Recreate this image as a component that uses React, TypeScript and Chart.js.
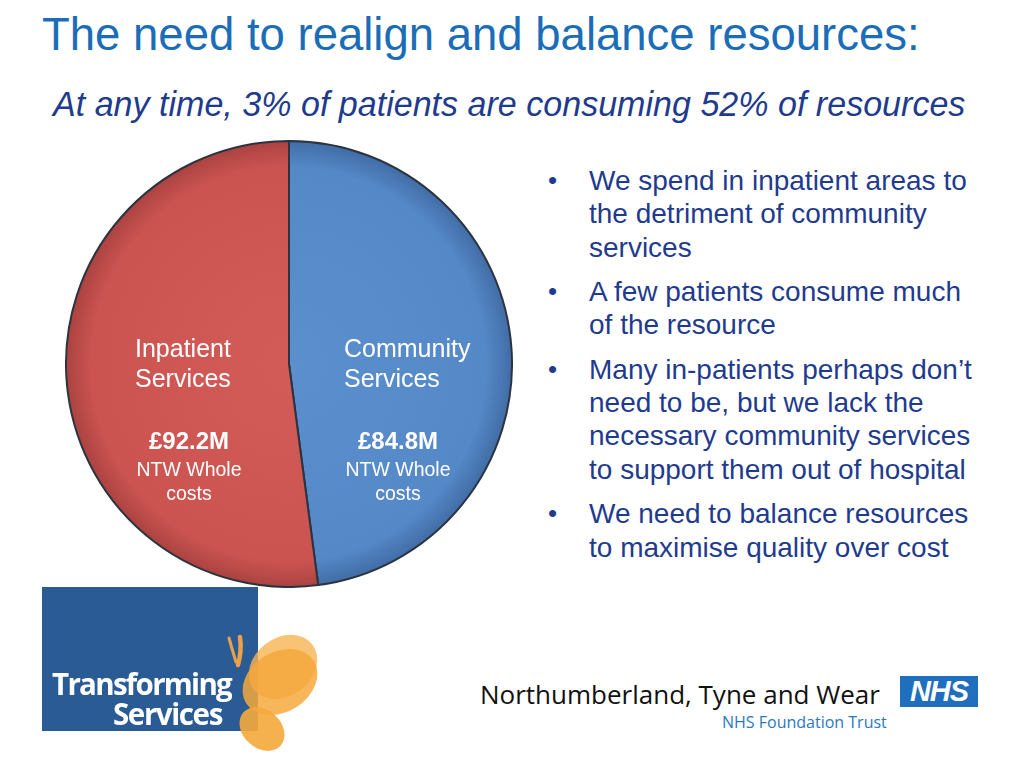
import React, { useEffect, useRef } from "react";
import { Chart, registerables } from "chart.js";

Chart.register(...registerables);

const categories = ["Community Services", "Inpatient Services"];
const values = [84.8, 92.2];
const amountLabels = ["£84.8M", "£92.2M"];
const subLabels = ["NTW Whole", "costs"];

const bullets = [
  ["We spend in inpatient areas to", "the detriment of community", "services"],
  ["A few patients consume much", "of the resource"],
  ["Many in-patients perhaps don’t", "need to be, but we lack the", "necessary community services", "to support them out of hospital"],
  ["We need to balance resources", "to maximise quality over cost"],
];

const sliceColors = [
  ["#5b8fcd", "#5488c7", "#416ca5"],
  ["#d35b58", "#cb5451", "#aa4240"],
];

const FONT = "'Liberation Sans', Arial, sans-serif";

// label layout relative to pie centre (name lines left aligned at x, amount block centred at cx)
const labelLayout = [
  { x: 55, cx: 109 },
  { x: -154, cx: -100 },
];

const pieLabelsPlugin = {
  id: "pieLabels",
  afterDatasetsDraw(chart: any) {
    const meta = chart.getDatasetMeta(0);
    const arc = meta.data[0];
    if (!arc) return;
    const { x: cx0, y: cy0 } = arc.getProps(["x", "y"], true);
    const ctx = chart.ctx;
    ctx.save();
    ctx.fillStyle = "#ffffff";
    ctx.textBaseline = "middle";
    categories.forEach((cat, i) => {
      const lay = labelLayout[i];
      const words = cat.split(" ");
      ctx.font = `25px ${FONT}`;
      ctx.textAlign = "left";
      ctx.fillText(words[0], cx0 + lay.x, cy0 - 14);
      ctx.fillText(words[1], cx0 + lay.x, cy0 + 16);
      ctx.textAlign = "center";
      ctx.font = `bold 24px ${FONT}`;
      ctx.fillText(amountLabels[i], cx0 + lay.cx, cy0 + 78);
      ctx.font = `19.5px ${FONT}`;
      ctx.fillText(subLabels[0], cx0 + lay.cx, cy0 + 107);
      ctx.fillText(subLabels[1], cx0 + lay.cx, cy0 + 131);
    });
    ctx.restore();
  },
};

function PieChart() {
  const ref = useRef<HTMLCanvasElement>(null);
  useEffect(() => {
    if (!ref.current) return;
    const chart = new Chart(ref.current, {
      type: "pie",
      data: {
        labels: categories,
        datasets: [
          {
            data: values,
            backgroundColor: (c: any) => {
              const chartObj = c.chart;
              const area = chartObj.chartArea;
              if (!area) return sliceColors[c.dataIndex][1];
              const x = (area.left + area.right) / 2;
              const y = (area.top + area.bottom) / 2;
              const r = Math.min(area.right - area.left, area.bottom - area.top) / 2;
              const g = chartObj.ctx.createRadialGradient(x, y, 0, x, y, r);
              const cols = sliceColors[c.dataIndex];
              g.addColorStop(0, cols[0]);
              g.addColorStop(0.88, cols[1]);
              g.addColorStop(1, cols[2]);
              return g;
            },
            borderColor: "#2b3440",
            borderWidth: 2,
          },
        ],
      },
      options: {
        animation: false,
        responsive: false,
        maintainAspectRatio: false,
        layout: { padding: 0 },
        plugins: { legend: { display: false }, tooltip: { enabled: false } },
      },
      plugins: [pieLabelsPlugin],
    });
    return () => chart.destroy();
  }, []);
  return <canvas ref={ref} width={448} height={448} style={{ width: 448, height: 448 }} />;
}

function TransformingLogo() {
  return (
    <svg width={300} height={180} style={{ position: "absolute", left: 40, top: 585 }}>
      <rect x={2} y={2} width={216} height={144} fill="#2a5b95" />
      <path d="M189 53 Q192 64 196 77" stroke="#e9a24a" strokeWidth={3} fill="none" strokeLinecap="round" />
      <path d="M200 52 Q202 66 198 80" stroke="#e9a24a" strokeWidth={4.5} fill="none" strokeLinecap="round" />
      <ellipse cx={243} cy={82} rx={37} ry={29} transform="rotate(-38 243 82)" fill="#f8b452" opacity={0.8} />
      <ellipse cx={240} cy={97} rx={40} ry={30} transform="rotate(-32 240 97)" fill="#f5a93c" opacity={0.85} />
      <ellipse cx={222} cy={144} rx={25} ry={19} transform="rotate(42 222 144)" fill="#f5a93c" opacity={0.9} />
      <text x={12} y={110} fill="#ffffff" fontFamily="'Open Sans', 'Noto Sans', sans-serif" fontWeight="bold" fontSize={29.5} letterSpacing={-1.7}>
        Transforming
      </text>
      <text x={73} y={140} fill="#ffffff" fontFamily="'Open Sans', 'Noto Sans', sans-serif" fontWeight="bold" fontSize={29.5} letterSpacing={-1.4}>
        Services
      </text>
    </svg>
  );
}

export default function App() {
  return (
    <div
      style={{
        position: "absolute",
        left: 0,
        top: 0,
        width: 1024,
        height: 768,
        background: "#ffffff",
        overflow: "hidden",
        fontFamily: FONT,
      }}
    >
      <div
        style={{
          position: "absolute",
          left: 42,
          top: 7,
          fontSize: 45.5,
          color: "#1a6db6",
          whiteSpace: "nowrap",
          lineHeight: "56px",
        }}
      >
        The need to realign and balance resources:
      </div>
      <div
        style={{
          position: "absolute",
          left: 53,
          top: 82,
          fontSize: 35,
          fontStyle: "italic",
          color: "#1f3b8e",
          whiteSpace: "nowrap",
          lineHeight: "44px",
          transform: "scaleX(0.973)",
          transformOrigin: "left top",
        }}
      >
        At any time, 3% of patients are consuming 52% of resources
      </div>

      <div style={{ position: "absolute", left: 65, top: 140 }}>
        <PieChart />
      </div>

      <div style={{ position: "absolute", left: 548, top: 164, color: "#1f3b8e", fontSize: 28 }}>
        {bullets.map((para, i) => (
          <div key={i} style={{ position: "relative", paddingLeft: 41, marginBottom: 11.2 }}>
            <span style={{ position: "absolute", left: 0, top: 0, lineHeight: "33.3px", fontSize: 26 }}>•</span>
            {para.map((line, j) => (
              <div key={j} style={{ lineHeight: "33.3px", whiteSpace: "nowrap" }}>
                {line}
              </div>
            ))}
          </div>
        ))}
      </div>

      <TransformingLogo />

      <div
        style={{
          position: "absolute",
          left: 480,
          top: 677,
          fontSize: 26,
          color: "#111111",
          fontFamily: "'Open Sans', 'Noto Sans', sans-serif",
          whiteSpace: "nowrap",
          lineHeight: "34px",
        }}
      >
        Northumberland, Tyne and Wear
      </div>
      <div
        style={{
          position: "absolute",
          left: 900,
          top: 676,
          width: 78,
          height: 31,
          background: "#1f6fbe",
          color: "#ffffff",
          fontFamily: FONT,
          fontWeight: "bold",
          fontStyle: "italic",
          fontSize: 29,
          lineHeight: "31px",
          textAlign: "center",
          letterSpacing: -1,
        }}
      >
        NHS
      </div>
      <div
        style={{
          position: "absolute",
          left: 722,
          top: 711,
          fontSize: 16,
          color: "#2a78c4",
          fontFamily: "'Open Sans', 'Noto Sans', sans-serif",
          whiteSpace: "nowrap",
          lineHeight: "22px",
        }}
      >
        NHS Foundation Trust
      </div>
    </div>
  );
}
